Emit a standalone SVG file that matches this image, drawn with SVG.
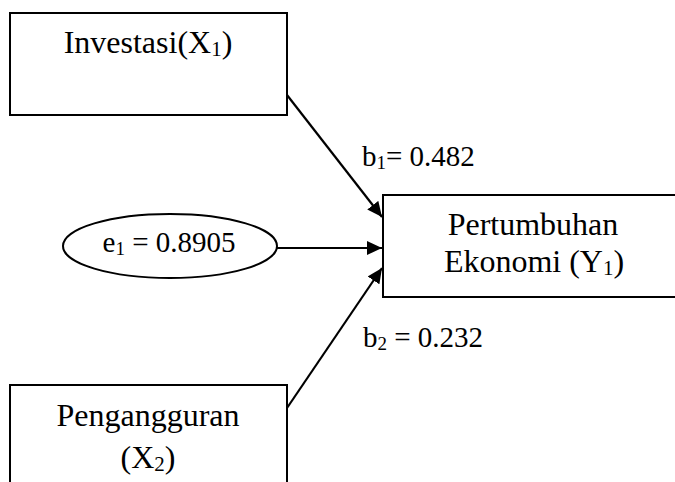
<svg xmlns="http://www.w3.org/2000/svg" width="675" height="482" viewBox="0 0 675 482">
<style>
.box{fill:#fff;stroke:#000;stroke-width:2}
.t{font-family:"Liberation Serif","Times New Roman",serif;font-size:32px;fill:#000}
.s{font-size:29px}
.m{text-anchor:middle}
.sub{font-size:21px}
.s .sub{font-size:19px}
.c{stroke:#000;stroke-width:2.2;fill:none}
</style>
<defs>
<marker id="ah" markerUnits="userSpaceOnUse" markerWidth="16" markerHeight="14" refX="15" refY="7" orient="auto">
<path d="M0,0 L15,7 L0,14 Z" fill="#000"/>
</marker>
</defs>
<rect width="675" height="482" fill="#fff"/>
<g id="connectors">
<line class="c" x1="287" y1="95" x2="382" y2="217" marker-end="url(#ah)"/>
<line class="c" x1="277" y1="248" x2="382" y2="248" marker-end="url(#ah)"/>
<line class="c" x1="287" y1="408" x2="382" y2="268" marker-end="url(#ah)"/>
<text class="t s" x="362" y="166">b<tspan class="sub" dy="3">1</tspan><tspan dy="-3">= 0.482</tspan></text>
<text class="t s" x="363" y="347">b<tspan class="sub" dy="3">2</tspan><tspan dy="-3"> = 0.232</tspan></text>
</g>
<g id="investasi">
<rect class="box" x="10" y="13" width="277" height="102"/>
<text class="t m" x="148" y="53">Investasi(X<tspan class="sub" dy="3">1</tspan><tspan dy="-3">)</tspan></text>
</g>
<g id="error">
<ellipse class="box" cx="170" cy="246" rx="107" ry="32"/>
<text class="t s m" x="169" y="252">e<tspan class="sub" dy="3">1</tspan><tspan dy="-3"> = 0.8905</tspan></text>
</g>
<g id="pertumbuhan">
<rect class="box" x="383" y="195" width="300" height="102"/>
<text class="t m" x="533" y="235">Pertumbuhan</text>
<text class="t m" x="534" y="272">Ekonomi (Y<tspan class="sub" dy="3">1</tspan><tspan dy="-3">)</tspan></text>
</g>
<g id="pengangguran">
<rect class="box" x="10" y="385" width="277" height="120"/>
<text class="t m" x="148" y="426">Pengangguran</text>
<text class="t m" x="148" y="468">(X<tspan class="sub" dy="3">2</tspan><tspan dy="-3">)</tspan></text>
</g>
</svg>
